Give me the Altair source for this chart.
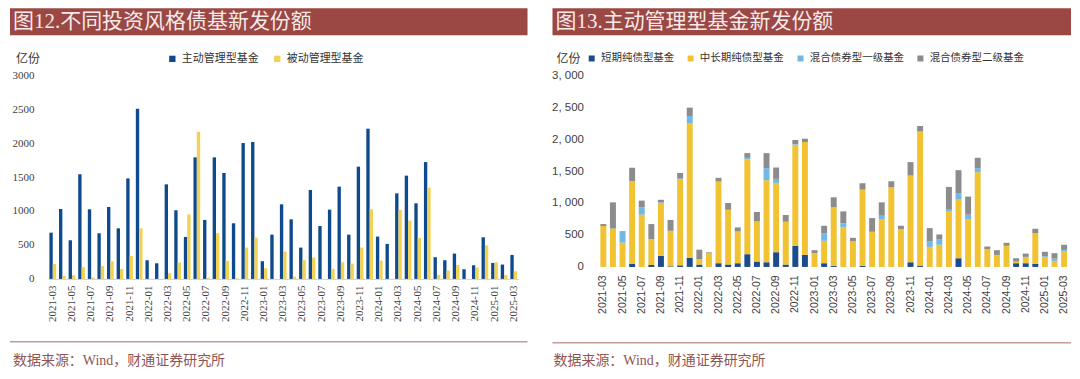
import altair as alt
import pandas as pd

months = [
    "2021-03", "2021-04", "2021-05", "2021-06", "2021-07", "2021-08", "2021-09", "2021-10", "2021-11", "2021-12",
    "2022-01", "2022-02", "2022-03", "2022-04", "2022-05", "2022-06", "2022-07", "2022-08", "2022-09", "2022-10", "2022-11", "2022-12",
    "2023-01", "2023-02", "2023-03", "2023-04", "2023-05", "2023-06", "2023-07", "2023-08", "2023-09", "2023-10", "2023-11", "2023-12",
    "2024-01", "2024-02", "2024-03", "2024-04", "2024-05", "2024-06", "2024-07", "2024-08", "2024-09", "2024-10", "2024-11", "2024-12",
    "2025-01", "2025-02", "2025-03",
]

# 图12: 主动 / 被动管理型基金 (亿份)
active = [681, 1029, 569, 1539, 1025, 672, 1059, 745, 1480, 2505,
          275, 230, 1392, 1010, 618, 1789, 868, 1789, 1559, 819, 2000, 2015,
          260, 652, 1098, 877, 461, 1309, 779, 1020, 1358, 652, 1652, 2211,
          623, 515, 1260, 1520, 1113, 1720, 319, 275, 373, 142, 201, 613,
          235, 211, 353]
passive = [220, 45, 54, 172, 20, 191, 260, 147, 338, 745,
           0, 0, 83, 240, 951, 2167, 15, 672, 265, 10, 461, 608,
           157, 0, 402, 34, 275, 314, 0, 147, 245, 225, 461, 1025,
           270, 0, 1015, 858, 603, 1343, 59, 123, 206, 0, 167, 495,
           245, 59, 113]

# 图13: 主动管理型基金分类 (亿份)
short_bond = [0, 0, 0, 50, 0, 30, 173, 10, 25, 141,
              37, 0, 58, 37, 58, 199, 84, 73, 230, 37, 330, 189,
              0, 58, 15, 0, 0, 15, 0, 0, 0, 0, 73, 15,
              0, 0, 0, 136, 0, 0, 0, 0, 0, 58, 58, 47,
              0, 0, 0]
midlong_bond = [640, 600, 380, 1285, 817, 405, 827, 555, 1350, 2110,
                83, 220, 1277, 858, 497, 1482, 628, 1283, 1084, 670, 1581, 1764,
                215, 350, 917, 618, 400, 1194, 550, 749, 1240, 592, 1356, 2105,
                314, 346, 864, 916, 749, 1482, 277, 188, 330, 26, 99, 482,
                147, 94, 241]
mixed1 = [0, 0, 170, 10, 115, 0, 10, 0, 10, 110,
          0, 0, 0, 0, 0, 26, 0, 189, 63, 0, 10, 0,
          0, 116, 0, 63, 0, 0, 0, 52, 10, 0, 0, 0,
          84, 89, 42, 95, 68, 63, 0, 0, 0, 0, 0, 0,
          20, 37, 26]
mixed2 = [30, 410, 10, 205, 105, 235, 40, 170, 85, 130,
          150, 10, 58, 105, 63, 73, 147, 235, 178, 105, 64, 52,
          47, 120, 157, 188, 55, 100, 214, 209, 90, 52, 210, 84,
          209, 73, 345, 366, 283, 162, 42, 74, 47, 52, 52, 68,
          69, 84, 79]

left_series = ["主动管理型基金", "被动管理型基金"]
left_colors = ["#0f4b8c", "#f2d155"]
right_series = ["短期纯债型基金", "中长期纯债型基金", "混合债券型一级基金", "混合债券型二级基金"]
right_colors = ["#1b4b8a", "#f1c232", "#72b8e4", "#8c8c8c"]

title_left = "图12.不同投资风格债基新发份额"
title_right = "图13.主动管理型基金新发份额"
unit_label = "亿份"
source_text = "数据来源：Wind，财通证券研究所"

CJK = "Noto Sans CJK SC"
SERIF = "Liberation Serif, Noto Sans CJK SC"
BAR_RED = "#9b4744"
SRC_COLOR = "#8e5552"
RULE_COLOR = "#c29a98"

W = 471
H_LEFT = 204
H_RIGHT = 192


def one(text):
    return pd.DataFrame({"t": [text]})


def text_mark(text, x, y, size, color, font, align="left"):
    return alt.Chart(one(text)).mark_text(
        align=align, baseline="middle", fontSize=size, color=color, font=font
    ).encode(text="t:N", x=alt.value(x), y=alt.value(y))


def rect_mark(x, x2, y, y2, color):
    return alt.Chart(one("")).mark_rect(color=color).encode(
        x=alt.value(x), x2=alt.value(x2), y=alt.value(y), y2=alt.value(y2)
    )


def rule_mark(x, x2, y, color):
    return alt.Chart(one("")).mark_rule(color=color, strokeWidth=1.5).encode(
        x=alt.value(x), x2=alt.value(x2), y=alt.value(y)
    )


# ---------- left panel ----------
df_left = pd.DataFrame({
    "月份": months * 2,
    "类型": [left_series[0]] * len(months) + [left_series[1]] * len(months),
    "份额": active + passive,
})

bars_left = alt.Chart(df_left).mark_bar().encode(
    x=alt.X("月份:N", sort=months, title=None,
            scale=alt.Scale(paddingInner=0.3, paddingOuter=0.15),
            axis=alt.Axis(values=months[::2], labelAngle=270, labelFont="Liberation Serif",
                          labelFontSize=11, labelColor="#404040", ticks=False,
                          domain=True, domainColor="#d0d0d0", labelPadding=6)),
    xOffset=alt.XOffset("类型:N", sort=left_series),
    y=alt.Y("份额:Q", title=None,
            scale=alt.Scale(domain=[0, 3000], nice=False),
            axis=alt.Axis(values=[0, 500, 1000, 1500, 2000, 2500, 3000], format="d",
                          labelFont="Liberation Serif",
                          labelFontSize=11, labelColor="#404040", ticks=False, domain=False,
                          grid=False, labelPadding=14)),
    color=alt.Color("类型:N", sort=left_series,
                    scale=alt.Scale(domain=left_series, range=left_colors),
                    legend=alt.Legend(orient="none", legendX=119, legendY=-22, direction="horizontal",
                                      title=None, symbolType="square", symbolSize=40,
                                      symbolStrokeWidth=0, labelFont=CJK, labelFontSize=11,
                                      labelColor="#333333", labelOffset=4, columnPadding=13,
                                      padding=0)),
)

left = alt.layer(
    rect_mark(-38, 480, -67, -40, BAR_RED),
    text_mark(title_left, -35, -53, 21, "#f6eaea", SERIF),
    text_mark(unit_label, -32, -16, 12, "#333333", CJK),
    bars_left,
    rule_mark(-38, 480, 267, RULE_COLOR),
    text_mark(source_text, -35, 286, 14, SRC_COLOR, SERIF),
).properties(width=W, height=H_LEFT)

# ---------- right panel ----------
n = len(months)
df_right = pd.DataFrame({
    "月份": months * 4,
    "分类": sum([[s] * n for s in right_series], []),
    "次序": sum([[i] * n for i in range(4)], []),
    "新发": short_bond + midlong_bond + mixed1 + mixed2,
})

bars_right = alt.Chart(df_right).mark_bar().encode(
    x=alt.X("月份:N", sort=months, title=None,
            scale=alt.Scale(paddingInner=0.38, paddingOuter=0.2),
            axis=alt.Axis(values=months[::2], labelAngle=270, labelFont="Liberation Sans",
                          labelFontSize=10.5, labelColor="#404040", ticks=False,
                          domain=False, labelPadding=8)),
    y=alt.Y("新发:Q", title=None, stack="zero",
            scale=alt.Scale(domain=[0, 3000], nice=False),
            axis=alt.Axis(values=[0, 500, 1000, 1500, 2000, 2500, 3000], labelFont="Liberation Sans",
                          labelFontSize=11.5, labelColor="#404040", ticks=False, domain=False,
                          grid=False, labelPadding=15,
                          labelExpr="replace(format(datum.value, ','), ',', ', ')")),
    color=alt.Color("分类:N", sort=right_series,
                    scale=alt.Scale(domain=right_series, range=right_colors),
                    legend=alt.Legend(orient="none", legendX=-12, legendY=-22, direction="horizontal",
                                      title=None, symbolType="square", symbolSize=36,
                                      symbolStrokeWidth=0, labelFont=CJK, labelFontSize=10.5,
                                      labelColor="#333333", labelOffset=4, columnPadding=11,
                                      padding=0)),
    order=alt.Order("次序:Q", sort="ascending"),
)

right = alt.layer(
    rect_mark(-46, 473, -67, -40, BAR_RED),
    text_mark(title_right, -43, -53, 21, "#f6eaea", SERIF),
    text_mark(unit_label, -42, -16, 12, "#333333", CJK),
    bars_right,
    rule_mark(-46, 473, 268, RULE_COLOR),
    text_mark(source_text, -45, 286, 14, SRC_COLOR, SERIF),
).properties(width=W, height=H_RIGHT)

chart = alt.hconcat(left, right, spacing=80, bounds="flush").resolve_scale(
    color="independent", x="independent", y="independent"
).resolve_legend(color="independent").properties(
    padding={"left": 1, "top": 0, "right": 0, "bottom": 0}
).configure_view(stroke=None)

chart.save("out.html", embed_options={"renderer": "svg", "actions": False})
